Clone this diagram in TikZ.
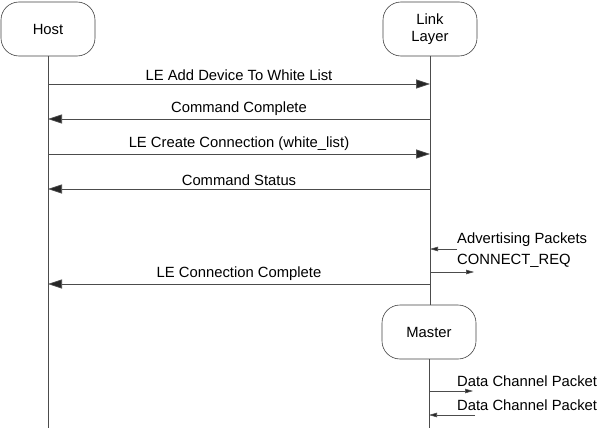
\documentclass[tikz,border=0pt]{standalone}
\usepackage{fontspec}
\setmainfont{Liberation Sans}
\usetikzlibrary{arrows.meta,positioning,calc}
\tikzset{
  party/.style={draw=black!75,line width=0.6pt,rounded corners=18pt,minimum width=94pt,minimum height=54pt,align=center,inner sep=2pt},
  life/.style={draw=black!70,line width=0.6pt},
  msg/.style={life,-{Triangle[length=14pt,width=9pt,fill=black!85]}},
  pkt/.style={life,-{Triangle[length=8pt,width=4.5pt,fill=black!85]}},
  lbl/.style={inner sep=1pt},
}

\begin{document}
\begin{tikzpicture}[x=1pt,y=-1pt,every node/.style={font=\fontsize{14.8}{17}\selectfont}]
 \useasboundingbox (0,0) rectangle (600,428);
 % parties
 \node[party] (host) at (48,29){Host};
 \node[party] (ll) at (430,29){Link\\Layer};
 \node[party] (master) at (429,332){Master};
 \coordinate (hend) at (host.center |- 0,428);
 \coordinate (lend) at (master.center |- 0,428);
 \draw[life] (host) -- (hend);
 \draw[life] (ll) -- (ll.center |- master.north);
 \draw[life] (master) -- (lend);
 % HCI messages
 \draw[msg] (host.center |- 0,84) -- (ll.center |- 0,84) node[lbl,midway,above=2pt]{LE Add Device To White List};
 \draw[msg] (ll.center |- 0,119) -- (host.center |- 0,119) node[lbl,midway,above=2pt]{Command Complete};
 \draw[msg] (host.center |- 0,154) -- (ll.center |- 0,154) node[lbl,midway,above=2pt]{LE Create Connection (white\_list)};
 \draw[msg] (ll.center |- 0,189) -- (host.center |- 0,189) node[lbl,midway,above=2pt]{Command Status};
 \draw[msg] (ll.center |- 0,284) -- (host.center |- 0,284) node[lbl,midway,above=2pt]{LE Connection Complete};
 % air packets
 \coordinate (adv) at ($(ll.center |- 0,249)+(27,0)$);
 \coordinate (req) at ($(ll.center |- 0,272)+(44,0)$);
 \coordinate (dc1) at ($(master.center |- 0,391)+(44,0)$);
 \coordinate (dc2) at ($(master.center |- 0,415)+(46,0)$);
 \draw[pkt] (adv) -- (ll.center |- adv);
 \draw[pkt] (ll.center |- req) -- (req);
 \draw[pkt] (master.center |- dc1) -- (dc1);
 \draw[pkt] (dc2) -- (master.center |- dc2);
 \node[lbl,anchor=west] (advl) at (456,240){Advertising Packets};
 \node[lbl,anchor=west] (reql) at (456,261){CONNECT\_REQ};
 \node[lbl,anchor=west] (dc1l) at (456,381){Data Channel Packet};
 \node[lbl,anchor=west] (dc2l) at (456,405){Data Channel Packet};
\end{tikzpicture}
\end{document}
